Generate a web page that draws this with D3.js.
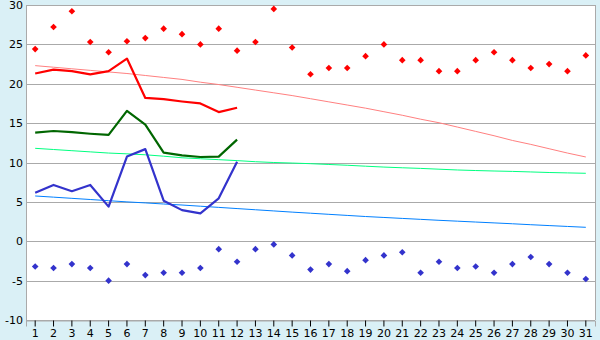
<!DOCTYPE html>
<html>
<head>
<meta charset="utf-8">
<script src="https://cdn.jsdelivr.net/npm/d3@7"></script>
<style>
  body { margin: 0; background: #daf0f6; }
  svg { display: block; }
  text { font-family: "DejaVu Sans", sans-serif; font-size: 11px; fill: #000; }
</style>
</head>
<body>
<svg width="600" height="340"></svg>
<script>
const days = d3.range(1, 32);
const yTicks = [-10, -5, 0, 5, 10, 15, 20, 25, 30];

// record highs / lows (markers)
const recMax = [24.4, 27.2, 29.2, 25.3, 24.0, 25.4, 25.8, 27.0, 26.3, 25.0, 27.0, 24.2, 25.3, 29.5, 24.6, 21.2,
	22.0, 22.0, 23.5, 25.0, 23.0, 23.0, 21.6, 21.6, 23.0, 24.0, 23.0, 22.0, 22.5, 21.6, 23.6];
const recMin = [-3.2, -3.4, -2.9, -3.4, -5.0, -2.9, -4.3, -4.0, -4.0, -3.4, -1.0, -2.6, -1.0, -0.4, -1.8, -3.6,
	-2.9, -3.8, -2.4, -1.8, -1.4, -4.0, -2.6, -3.4, -3.2, -4.0, -2.9, -2.0, -2.9, -4.0, -4.8];

// this month (days 1-12)
const curMax = [21.3, 21.8, 21.6, 21.2, 21.6, 23.2, 18.2, 18.05, 17.75, 17.5, 16.4, 16.95];
const curMean = [13.8, 14.0, 13.85, 13.65, 13.5, 16.55, 14.8, 11.25, 10.9, 10.7, 10.75, 12.9];
const curMin = [6.15, 7.15, 6.35, 7.15, 4.4, 10.75, 11.7, 5.15, 3.95, 3.55, 5.45, 10.1];

// normals
const normMax = [22.3, 22.1, 21.9, 21.7, 21.5, 21.3, 21.05, 20.8, 20.55, 20.2, 19.9, 19.55, 19.2, 18.85, 18.5, 18.1,
	17.7, 17.3, 16.9, 16.45, 16.0, 15.5, 15.05, 14.5, 13.95, 13.4, 12.8, 12.3, 11.75, 11.2, 10.7];
const normMean = [11.8, 11.65, 11.5, 11.35, 11.2, 11.1, 10.98, 10.8, 10.6, 10.48, 10.36, 10.24, 10.1, 10.0, 9.93, 9.85,
	9.75, 9.65, 9.53, 9.42, 9.33, 9.25, 9.15, 9.05, 8.98, 8.92, 8.87, 8.8, 8.73, 8.68, 8.63];
const normMin = [5.75, 5.6, 5.45, 5.3, 5.15, 5.0, 4.87, 4.73, 4.6, 4.45, 4.3, 4.15, 4.0, 3.85, 3.7, 3.56,
	3.42, 3.28, 3.14, 3.02, 2.9, 2.78, 2.66, 2.55, 2.44, 2.33, 2.22, 2.1, 1.99, 1.88, 1.77];

let svg = d3.select("svg"),
	pL = 26, pR = 595, pT = 5, pB = 320;

let x = d3.scaleBand().domain(days).range([pL, pR]);
let y = d3.scaleLinear().domain([-10, 30]).range([pB, pT]);
let cx = d => x(d) + x.bandwidth() / 2;

svg.append("rect")
	.attr("x", pL).attr("y", pT)
	.attr("width", pR - pL).attr("height", pB - pT)
	.attr("fill", "#fff");

// grid
svg.append("g").selectAll("line")
	.data(yTicks)
	.enter().append("line")
	.attr("x1", pL).attr("x2", pR)
	.attr("y1", d => Math.round(y(d)) + 0.5).attr("y2", d => Math.round(y(d)) + 0.5)
	.attr("stroke", "#aaa").attr("stroke-width", 1);

svg.append("line")
	.attr("x1", pR + 0.5).attr("x2", pR + 0.5)
	.attr("y1", pT).attr("y2", pB)
	.attr("stroke", "#aaa");
svg.append("line")
	.attr("x1", pL + 0.5).attr("x2", pL + 0.5)
	.attr("y1", pT).attr("y2", pB)
	.attr("stroke", "#aaa");

// y labels
svg.append("g").selectAll("text")
	.data(yTicks)
	.enter().append("text")
	.attr("x", 23).attr("y", d => y(d) + 4)
	.attr("text-anchor", "end")
	.text(d => d);

// x axis
let xAxis = d3.axisBottom(x).tickSize(6).tickPadding(3);
let gx = svg.append("g")
	.attr("transform", `translate(0,${pB + 0.5})`)
	.call(xAxis);
gx.select(".domain").attr("stroke", "#aaa");
gx.selectAll(".tick line").attr("stroke", "#000");
gx.selectAll("text").style("font-family", "DejaVu Sans").style("font-size", "11px").attr("fill", "#000");

function line(vals, color, width) {
	svg.append("path")
		.datum(vals)
		.attr("fill", "none")
		.attr("stroke", color)
		.attr("stroke-width", width)
		.attr("stroke-linejoin", "round")
		.attr("d", d3.line().x((d, i) => cx(days[i])).y(d => y(d)));
}

line(normMax, "#ff8080", 1);
line(normMean, "#00ff80", 1);
line(normMin, "#0080ff", 1);
line(curMax, "#ff0000", 2.2);
line(curMean, "#006600", 2.2);
line(curMin, "#3333cc", 2.2);

function markers(vals, color) {
	svg.append("g").selectAll("path")
		.data(vals)
		.enter().append("path")
		.attr("transform", (d, i) => `translate(${cx(days[i])},${y(d)})`)
		.attr("d", d3.symbol(d3.symbolDiamond2, 28))
		.attr("fill", color);
}

markers(recMax, "#ff0000");
markers(recMin, "#3333cc");
</script>
</body>
</html>
